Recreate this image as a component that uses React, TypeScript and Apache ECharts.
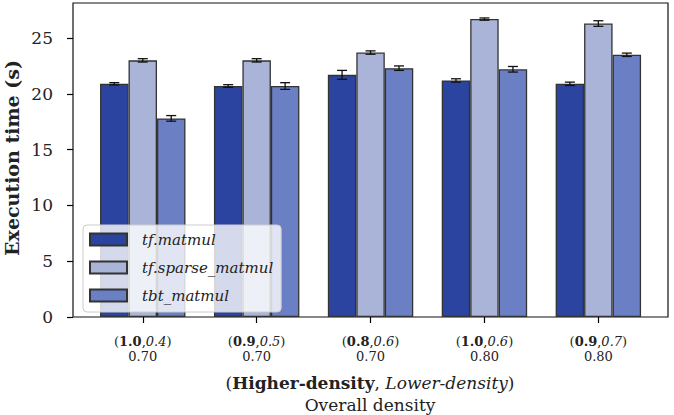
import React, { useEffect, useRef } from 'react';
import * as echarts from 'echarts';

// ---- data ----
const higherDensity = ['1.0', '0.9', '0.8', '1.0', '0.9'];
const lowerDensity = ['0.4', '0.5', '0.6', '0.6', '0.7'];
const overallDensity = ['0.70', '0.70', '0.70', '0.80', '0.80'];

const seriesNames = ['tf.matmul', 'tf.sparse_matmul', 'tbt_matmul'];
const tfMatmul = [20.9, 20.7, 21.7, 21.2, 20.9];
const tfSparseMatmul = [23.0, 23.0, 23.7, 26.7, 26.3];
const tbtMatmul = [17.8, 20.7, 22.3, 22.2, 23.5];

const tfMatmulErr = [0.1, 0.12, 0.4, 0.15, 0.15];
const tfSparseMatmulErr = [0.15, 0.15, 0.15, 0.1, 0.25];
const tbtMatmulErr = [0.25, 0.3, 0.2, 0.25, 0.15];

const yTicks = [0, 5, 10, 15, 20, 25];
const yMax = 28.14;

const colors = ['#2b44a0', '#a9b4d8', '#6b7fc4'];

export default function App() {
  const ref = useRef<HTMLDivElement>(null);

  useEffect(() => {
    const chart = echarts.init(ref.current!, null, { renderer: 'svg' });
    const categories = higherDensity.map((h, i) => `${h}|${lowerDensity[i]}|${overallDensity[i]}`);
    const values = [tfMatmul, tfSparseMatmul, tbtMatmul];
    const errs = [tfMatmulErr, tfSparseMatmulErr, tbtMatmulErr];

    const errData: number[][] = [];
    values.forEach((vals, s) => {
      vals.forEach((v, j) => errData.push([j, v, errs[s][j], s]));
    });

    const font = 'DejaVu Serif';

    const option: any = {
      animation: false,
      backgroundColor: '#fff',
      grid: [
        { left: 73, top: 3, width: 595, height: 314, show: true, borderColor: '#111', borderWidth: 1.2, backgroundColor: 'transparent' },
        { left: 85.8, top: 3, width: 569.5, height: 314 },
      ],
      xAxis: [
        { type: 'value', gridIndex: 0, min: 0, max: 1, show: false },
        {
          type: 'category',
          gridIndex: 1,
          data: categories,
          axisLine: { show: false },
          axisTick: { show: true, alignWithLabel: true, length: 6, lineStyle: { color: '#000', width: 1.2 } },
          axisLabel: {
            margin: 17,
            interval: 0,
            hideOverlap: false,
            formatter: (val: string) => {
              const [h, l, o] = val.split('|');
              return `{p|(}{b|${h}}{p|,}{i|${l}}{p|)}\n{n|${o}}`;
            },
            rich: {
              p: { fontFamily: font, fontSize: 13, color: '#222', lineHeight: 15 },
              b: { fontFamily: font, fontSize: 13, fontWeight: 'bold', color: '#222', lineHeight: 15 },
              i: { fontFamily: font, fontSize: 13, fontStyle: 'italic', color: '#222', lineHeight: 15 },
              n: { fontFamily: font, fontSize: 13, color: '#222', lineHeight: 15 },
            },
          },
        },
      ],
      yAxis: [
        {
          type: 'value',
          gridIndex: 0,
          min: 0,
          max: yMax,
          interval: 5,
          axisLine: { show: false },
          splitLine: { show: false },
          axisTick: { show: true, length: 6, customValues: yTicks, lineStyle: { color: '#000', width: 1.2 } },
          axisLabel: { customValues: yTicks, margin: 20, fontFamily: font, fontSize: 17, color: '#222' },
        },
        { type: 'value', gridIndex: 1, min: 0, max: yMax, show: false },
      ],
      legend: {
        orient: 'vertical',
        left: 83,
        top: 225,
        data: seriesNames,
        icon: 'rect',
        itemWidth: 37,
        itemHeight: 12,
        itemGap: 13,
        padding: [7, 8, 9, 6],
        backgroundColor: 'rgba(255,255,255,0.8)',
        borderColor: '#cccccc',
        borderWidth: 1,
        borderRadius: 4,
        textStyle: { fontFamily: font, fontStyle: 'italic', fontSize: 15, color: '#222', padding: [0, 0, 0, 10] },
      },
      series: [
        ...seriesNames.map((name, s) => ({
          name,
          type: 'bar',
          xAxisIndex: 1,
          yAxisIndex: 1,
          data: values[s],
          barWidth: '25%',
          barGap: '0%',
          itemStyle: { color: colors[s], borderColor: '#333', borderWidth: 1.3 },
        })),
        {
          type: 'custom',
          xAxisIndex: 1,
          yAxisIndex: 1,
          z: 5,
          data: errData,
          encode: { x: 0, y: 1 },
          renderItem: (params: any, api: any) => {
            const cat = api.value(0);
            const v = api.value(1);
            const e = api.value(2);
            const s = api.value(3);
            const band = api.size([1, 0])[0];
            const w = band * 0.25;
            const x = api.coord([cat, v])[0] + (s - 1) * w;
            const yt = api.coord([cat, v + e])[1];
            const yb = api.coord([cat, v - e])[1];
            const cap = 5;
            const st = { stroke: '#111', lineWidth: 1.3 };
            return {
              type: 'group',
              children: [
                { type: 'line', shape: { x1: x, y1: yt, x2: x, y2: yb }, style: st },
                { type: 'line', shape: { x1: x - cap, y1: yt, x2: x + cap, y2: yt }, style: st },
                { type: 'line', shape: { x1: x - cap, y1: yb, x2: x + cap, y2: yb }, style: st },
              ],
            };
          },
        },
      ],
      graphic: [
        {
          type: 'text',
          x: 370,
          y: 383,
          style: {
            text: '{p|(}{b|Higher-density}{p|, }{i|Lower-density}{p|)}',
            align: 'center',
            verticalAlign: 'middle',
            rich: {
              p: { fontFamily: font, fontSize: 17, fill: '#222' },
              b: { fontFamily: font, fontSize: 17, fontWeight: 'bold', fill: '#222' },
              i: { fontFamily: font, fontSize: 17, fontStyle: 'italic', fill: '#222' },
            },
          },
        },
        {
          type: 'text',
          x: 370,
          y: 405,
          style: { text: 'Overall density', align: 'center', verticalAlign: 'middle', fontFamily: font, fontSize: 17, fill: '#222' },
        },
        {
          type: 'text',
          x: 12,
          y: 158,
          rotation: Math.PI / 2,
          style: { text: 'Execution time (s)', align: 'center', verticalAlign: 'middle', fontFamily: font, fontSize: 19, fontWeight: 'bold', fill: '#222' },
        },
      ],
    };

    chart.setOption(option);
    return () => chart.dispose();
  }, []);

  return <div ref={ref} style={{ width: 674, height: 415, position: 'absolute', left: 0, top: 0 }} />;
}
